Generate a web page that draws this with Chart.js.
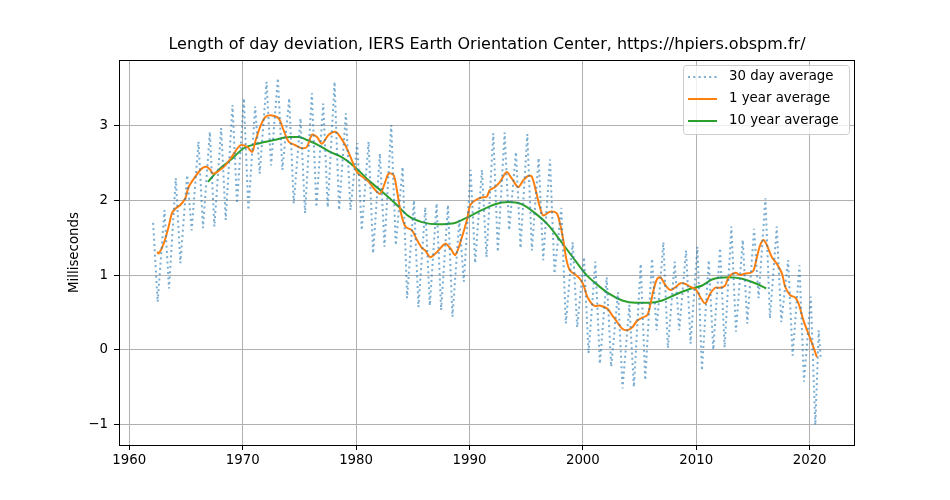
<!DOCTYPE html>
<html>
<head>
<meta charset="utf-8">
<script src="https://cdn.jsdelivr.net/npm/chart.js@4.4.1/dist/chart.umd.min.js"></script>
<style>
  html, body { margin: 0; padding: 0; background: #fff; }
  #wrap { width: 950px; height: 500px; }
</style>
</head>
<body>
<div id="wrap"><canvas id="lodChart" width="950" height="500"></canvas></div>
<script>
// 30 day average: yearly high and low of the seasonal swing (ms)
const dayYears = [1962, 1963, 1964, 1965, 1966, 1967, 1968, 1969, 1970, 1971,
  1972, 1973, 1974, 1975, 1976, 1977, 1978, 1979, 1980, 1981,
  1982, 1983, 1984, 1985, 1986, 1987, 1988, 1989, 1990, 1991,
  1992, 1993, 1994, 1995, 1996, 1997, 1998, 1999, 2000, 2001,
  2002, 2003, 2004, 2005, 2006, 2007, 2008, 2009, 2010, 2011,
  2012, 2013, 2014, 2015, 2016, 2017, 2018, 2019, 2020];
const dayPeaks = [1.70, 1.87, 2.30, 2.34, 2.79, 2.92, 2.97, 3.28, 3.37, 3.26,
  3.59, 3.64, 3.37, 3.10, 3.44, 3.30, 3.59, 3.17, 2.77, 2.79,
  2.63, 3.01, 2.45, 2.00, 1.91, 1.96, 1.94, 1.74, 2.41, 2.41,
  2.90, 2.91, 2.65, 2.89, 2.57, 2.55, 1.90, 1.44, 1.24, 1.18,
  0.97, 0.77, 0.60, 1.15, 1.22, 1.44, 1.18, 1.33, 1.38, 1.20,
  1.36, 1.65, 1.47, 1.62, 2.03, 1.65, 1.20, 1.13, 0.71];
const dayTroughs = [0.64, 0.82, 1.16, 1.60, 1.63, 1.65, 1.74, 1.96, 1.87, 2.36,
  2.47, 2.41, 1.96, 1.83, 1.91, 1.91, 1.87, 1.87, 1.60, 1.29,
  1.38, 1.40, 0.69, 0.57, 0.59, 0.53, 0.44, 0.91, 1.16, 1.24,
  1.31, 1.60, 1.36, 1.33, 1.20, 1.02, 0.35, 0.30, -0.05, -0.19,
  -0.23, -0.52, -0.50, -0.41, 0.26, 0.02, 0.26, 0.08, -0.28, 0.00,
  0.03, 0.24, 0.35, 0.69, 0.42, 0.37, -0.08, -0.43, -1.01];
const dayTailYears = [2020.8, 2020.98];
const dayTailValues = [0.26, -0.12];

// 1 year average
const yearTimes = [1962.45, 1962.6, 1963.03, 1963.47, 1963.76, 1964.06, 1964.5, 1964.94, 1965.23, 1965.82,
  1966.41, 1966.85, 1967.15, 1967.35, 1967.73, 1968.47, 1969.06, 1969.79, 1970.38, 1970.82,
  1971.11, 1971.55, 1972.0, 1972.58, 1973.17, 1973.61, 1974.05, 1974.64, 1975.23, 1975.67,
  1976.11, 1976.55, 1976.99, 1977.58, 1978.17, 1978.61, 1979.05, 1979.49, 1980.08, 1980.52,
  1981.1, 1981.69, 1982.13, 1982.57, 1982.87, 1983.31, 1983.6, 1983.9, 1984.34, 1984.93,
  1985.37, 1985.81, 1986.1, 1986.54, 1987.13, 1987.87, 1988.31, 1988.75, 1989.34, 1989.78,
  1990.07, 1990.48, 1991.07, 1991.51, 1991.8, 1992.25, 1992.69, 1993.27, 1993.71, 1994.3,
  1994.74, 1995.19, 1995.5, 1995.92, 1996.21, 1996.5, 1997.1, 1997.68, 1997.98, 1998.27,
  1998.56, 1998.86, 1999.3, 1999.74, 2000.05, 2000.39, 2000.98, 2001.56, 2002.15, 2002.59,
  2003.03, 2003.47, 2003.9, 2004.36, 2004.8, 2005.24, 2005.68, 2005.97, 2006.27, 2006.56,
  2006.85, 2007.3, 2007.73, 2008.18, 2008.62, 2009.06, 2009.5, 2009.94, 2010.38, 2010.79,
  2011.23, 2011.67, 2012.1, 2012.54, 2012.85, 2013.44, 2013.88, 2014.32, 2014.76, 2015.05,
  2015.35, 2015.64, 2015.94, 2016.23, 2016.67, 2017.11, 2017.56, 2017.85, 2018.29, 2018.73,
  2019.02, 2019.46, 2019.9, 2020.34, 2020.64];
const yearValues = [1.31, 1.29, 1.42, 1.65, 1.83, 1.89, 1.94, 2.03, 2.18, 2.32,
  2.43, 2.45, 2.41, 2.36, 2.38, 2.47, 2.59, 2.74, 2.72, 2.65,
  2.79, 2.99, 3.12, 3.14, 3.10, 2.94, 2.79, 2.74, 2.70, 2.72,
  2.88, 2.85, 2.76, 2.88, 2.92, 2.85, 2.74, 2.59, 2.38, 2.32,
  2.25, 2.14, 2.09, 2.25, 2.36, 2.34, 2.14, 1.87, 1.65, 1.60,
  1.47, 1.36, 1.33, 1.24, 1.31, 1.42, 1.36, 1.27, 1.51, 1.74,
  1.94, 2.00, 2.04, 2.05, 2.14, 2.18, 2.25, 2.38, 2.30, 2.18,
  2.27, 2.33, 2.32, 2.09, 1.91, 1.80, 1.85, 1.83, 1.69, 1.47,
  1.20, 1.06, 1.01, 0.95, 0.87, 0.71, 0.59, 0.59, 0.55, 0.46,
  0.37, 0.28, 0.26, 0.30, 0.39, 0.43, 0.46, 0.62, 0.82, 0.95,
  0.97, 0.86, 0.80, 0.84, 0.89, 0.88, 0.84, 0.81, 0.70, 0.62,
  0.75, 0.83, 0.83, 0.86, 0.97, 1.03, 1.00, 1.02, 1.03, 1.06,
  1.24, 1.40, 1.47, 1.40, 1.24, 1.15, 1.02, 0.84, 0.73, 0.70,
  0.62, 0.39, 0.21, 0.03, -0.10];

// 10 year average
const decadeTimes = [1966.94, 1967.88, 1969.06, 1970.08, 1971.26, 1972.73, 1974.2, 1974.93, 1975.67, 1976.7,
  1977.72, 1978.61, 1979.49, 1980.37, 1981.1, 1982.28, 1983.46, 1984.63, 1985.81, 1987.28,
  1988.46, 1989.63, 1991.07, 1992.25, 1993.42, 1994.6, 1995.78, 1996.95, 1998.12, 1999.3,
  2000.33, 2001.12, 2002.3, 2003.47, 2004.65, 2005.83, 2007.0, 2008.18, 2009.36, 2010.53,
  2011.38, 2012.85, 2014.03, 2015.2, 2016.17];
const decadeValues = [2.25, 2.41, 2.56, 2.70, 2.76, 2.81, 2.85, 2.85, 2.81, 2.74,
  2.65, 2.59, 2.50, 2.38, 2.27, 2.12, 1.96, 1.79, 1.71, 1.68,
  1.69, 1.76, 1.87, 1.95, 1.98, 1.95, 1.83, 1.67, 1.44, 1.20,
  1.00, 0.89, 0.75, 0.66, 0.63, 0.63, 0.66, 0.74, 0.81, 0.86,
  0.94, 0.97, 0.95, 0.89, 0.82];

const xTicks = [1960, 1970, 1980, 1990, 2000, 2010, 2020];
const yTicks = [-1, 0, 1, 2, 3];

const dayPoints = [];
dayYears.forEach((yr, i) => {
  dayPoints.push({ x: yr + 0.1, y: dayPeaks[i] });
  dayPoints.push({ x: yr + 0.5, y: dayTroughs[i] });
});
dayTailYears.forEach((t, i) => dayPoints.push({ x: t, y: dayTailValues[i] }));

const yearPoints = yearTimes.map((t, i) => ({ x: t, y: yearValues[i] }));
const decadePoints = decadeTimes.map((t, i) => ({ x: t, y: decadeValues[i] }));

const fontFamily = '"DejaVu Sans", sans-serif';
const minus = v => (v < 0 ? '\u2212' + Math.abs(v) : String(v));

// top/right spines and the in-plot legend, matplotlib style
const frameAndLegend = {
  id: 'frameAndLegend',
  afterDatasetsDraw(chart) {
    const { ctx, chartArea: a } = chart;
    ctx.save();
    ctx.strokeStyle = '#000';
    ctx.lineWidth = 1;
    ctx.strokeRect(a.left + 0.5, a.top + 0.5, a.right - a.left - 1, a.bottom - a.top);

    const w = 166, h = 69;
    const x0 = a.right - 6 - w, y0 = a.top + 5;
    ctx.beginPath();
    ctx.roundRect(x0 + 0.5, y0 + 0.5, w, h, 3);
    ctx.fillStyle = 'rgba(255,255,255,0.8)';
    ctx.fill();
    ctx.strokeStyle = '#cccccc';
    ctx.stroke();

    ctx.font = '13.33px ' + fontFamily;
    ctx.textBaseline = 'middle';
    chart.data.datasets.forEach((ds, i) => {
      const ry = y0 + 12 + i * 22;
      ctx.beginPath();
      ctx.setLineDash(ds.borderDash || []);
      ctx.strokeStyle = ds.borderColor;
      ctx.lineWidth = ds.borderWidth;
      ctx.moveTo(x0 + 5, ry);
      ctx.lineTo(x0 + 34, ry);
      ctx.stroke();
      ctx.setLineDash([]);
      ctx.fillStyle = '#000';
      ctx.fillText(ds.label, x0 + 46, ry);
    });
    ctx.restore();
  }
};

const ctx = document.getElementById('lodChart');
new Chart(ctx, {
  type: 'line',
  data: {
    datasets: [{
      label: '30 day average',
      data: dayPoints,
      borderColor: 'rgba(31,119,180,0.6)',
      borderWidth: 2,
      borderDash: [2, 3.3],
      pointRadius: 0,
      tension: 0
    }, {
      label: '1 year average',
      data: yearPoints,
      borderColor: '#ff7f0e',
      borderWidth: 2,
      pointRadius: 0,
      tension: 0.3
    }, {
      label: '10 year average',
      data: decadePoints,
      borderColor: '#2ca02c',
      borderWidth: 2,
      pointRadius: 0,
      cubicInterpolationMode: 'monotone'
    }]
  },
  options: {
    responsive: false,
    animation: false,
    layout: { padding: { right: 95 } },
    scales: {
      x: {
        type: 'linear',
        min: 1959.09,
        max: 2024.0,
        afterBuildTicks: s => { s.ticks = xTicks.map(v => ({ value: v })); },
        afterFit: s => { s.height = 55; },
        grid: { color: '#b0b0b0', lineWidth: 1, tickColor: '#000', tickLength: 5 },
        border: { display: false },
        ticks: {
          color: '#000',
          padding: 3,
          maxRotation: 0,
          font: { family: fontFamily, size: 13.33 },
          callback: v => String(v)
        }
      },
      y: {
        min: -1.278,
        max: 3.883,
        afterBuildTicks: s => { s.ticks = yTicks.map(v => ({ value: v })); },
        afterFit: s => { s.width = 119; },
        grid: { color: '#b0b0b0', lineWidth: 1, tickColor: '#000', tickLength: 5 },
        border: { display: false },
        ticks: {
          color: '#000',
          padding: 6,
          font: { family: fontFamily, size: 13.33 },
          callback: v => minus(v)
        },
        title: {
          display: true,
          text: 'Milliseconds',
          color: '#000',
          font: { family: fontFamily, size: 13.33 },
          padding: { top: 67, bottom: 0 }
        }
      }
    },
    plugins: {
      legend: { display: false },
      tooltip: { enabled: false },
      title: {
        display: true,
        fullSize: false,
        text: 'Length of day deviation, IERS Earth Orientation Center, https://hpiers.obspm.fr/',
        color: '#000',
        font: { family: fontFamily, size: 16, weight: 'normal' },
        padding: { top: 35.4, bottom: 5.4 }
      }
    }
  },
  plugins: [frameAndLegend]
});
</script>
</body>
</html>
